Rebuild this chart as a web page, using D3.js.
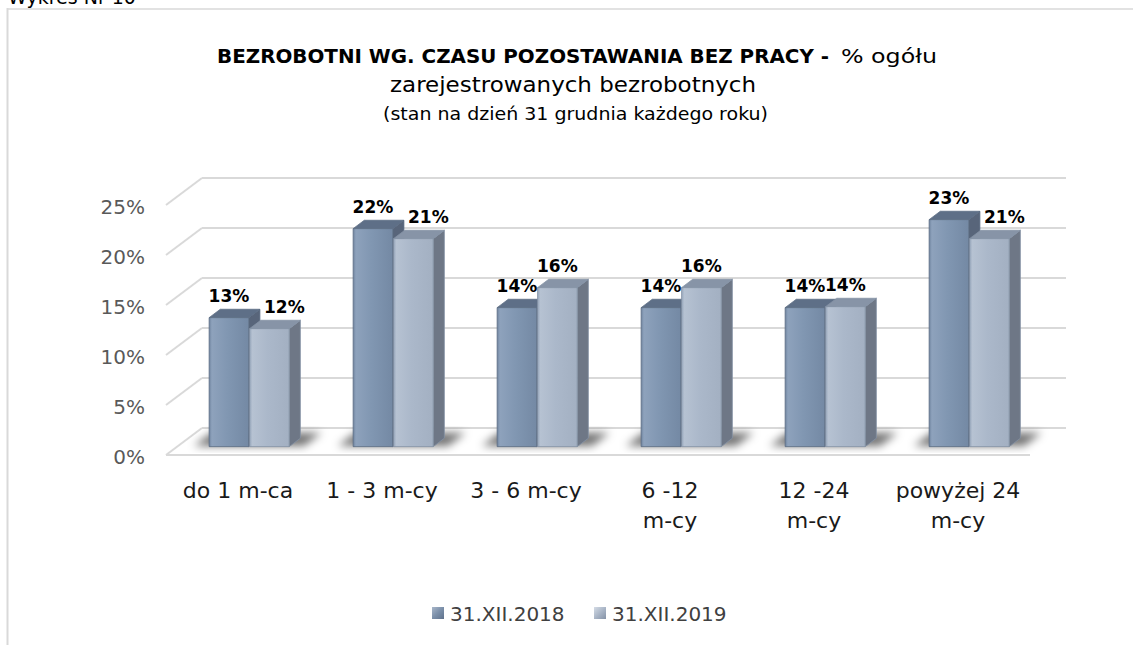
<!DOCTYPE html>
<html>
<head>
<meta charset="utf-8">
<script src="https://cdn.jsdelivr.net/npm/d3@7"></script>
<style>
  html, body { margin: 0; padding: 0; background: #fff; }
  svg { display: block; font-family: "DejaVu Sans", sans-serif; }
</style>
</head>
<body>
<svg id="chart" width="1135" height="645"></svg>
<script>
// ---- data ----
const categories = [["do 1 m-ca"], ["1 - 3 m-cy"], ["3 - 6 m-cy"], ["6 -12", "m-cy"], ["12 -24", "m-cy"], ["powyżej 24", "m-cy"]];
const seriesNames = ["31.XII.2018", "31.XII.2019"];
const values2018 = [12.9, 21.8, 13.9, 13.9, 13.9, 22.7];
const values2019 = [11.8, 20.8, 15.9, 15.9, 14.0, 20.8];
const labels2018 = ["13%", "22%", "14%", "14%", "14%", "23%"];
const labels2019 = ["12%", "21%", "16%", "16%", "14%", "21%"];
const yTicks = [0, 5, 10, 15, 20, 25];
const titleBold = "BEZROBOTNI WG. CZASU POZOSTAWANIA BEZ PRACY -";
const titleRest = "% ogółu";
const titleLine2 = "zarejestrowanych bezrobotnych";
const titleLine3 = "(stan na dzień 31 grudnia każdego roku)";
const caption = "Wykres Nr 10";

// ---- layout ----
const svg = d3.select("#chart");
const W = 1135, H = 645;
const DX = 36, DY = -27;        // full depth offset
const F0 = 0.31, F1 = 0.62;     // bar depth
const keys = categories.map(c => c.join(" "));
const x0 = d3.scaleBand().domain(keys).range([166, 1030]).paddingInner(0.444).paddingOuter(0.222);
const x1 = d3.scaleBand().domain([0, 1]).range([0, x0.bandwidth()]).paddingInner(0.02);
const y = d3.scaleLinear().domain([0, 25]).range([455, 205]);
const P = (xf, v, f) => [xf + DX * f, y(v) + DY * f];
const poly = pts => "M" + pts.map(p => p.join(",")).join("L") + "Z";

const defs = svg.append("defs");
function lin(id, stops, x2 = "100%", y2 = "0%") {
  const g = defs.append("linearGradient").attr("id", id).attr("x1", "0%").attr("y1", "0%").attr("x2", x2).attr("y2", y2);
  stops.forEach(s => g.append("stop").attr("offset", s[0]).attr("stop-color", s[1]));
}
lin("front0", [[0, "#6f849f"], [0.07, "#8ea2bc"], [0.45, "#8197b2"], [1, "#7489a4"]]);
lin("front1", [[0, "#97a6bb"], [0.07, "#b6c2d2"], [0.45, "#abb8ca"], [1, "#a3b0c2"]]);
lin("leg0", [[0, "#a9b7ca"], [0.5, "#7b8fa9"], [1, "#5f718b"]], "100%", "100%");
lin("leg1", [[0, "#d5dce6"], [0.5, "#aab6c7"], [1, "#8492a6"]], "100%", "100%");
defs.append("filter").attr("id", "blur").attr("x", "-50%").attr("y", "-50%").attr("width", "200%").attr("height", "200%")
  .append("feGaussianBlur").attr("stdDeviation", 4);

const colors = [
  { front: "url(#front0)", top: "#5e6f87", side: "#58657a", stroke: "#5d6d84" },
  { front: "url(#front1)", top: "#8794a7", side: "#6e7786", stroke: "#8492a5" }
];

// caption (partly cut off at top, as in the source)
svg.append("text").attr("x", 8).attr("y", 4).attr("font-size", 19).attr("fill", "#000").text(caption);

// outer frame
svg.append("line").attr("x1", 7).attr("x2", 1133).attr("y1", 9).attr("y2", 9).attr("stroke", "#d9d9d9").attr("stroke-width", 1.5);
svg.append("line").attr("x1", 7.5).attr("x2", 7.5).attr("y1", 8).attr("y2", H).attr("stroke", "#d9d9d9").attr("stroke-width", 2);

// title
svg.append("text").attr("x", 217).attr("y", 63).attr("font-size", 20).attr("font-weight", "bold")
  .attr("textLength", 612).attr("lengthAdjust", "spacingAndGlyphs").attr("fill", "#000").text(titleBold);
svg.append("text").attr("x", 841).attr("y", 63).attr("font-size", 20)
  .attr("textLength", 96).attr("lengthAdjust", "spacingAndGlyphs").attr("fill", "#000").text(titleRest);
svg.append("text").attr("x", 390).attr("y", 92).attr("font-size", 21)
  .attr("textLength", 366).attr("lengthAdjust", "spacingAndGlyphs").attr("fill", "#000").text(titleLine2);
svg.append("text").attr("x", 383).attr("y", 120).attr("font-size", 17)
  .attr("textLength", 385).attr("lengthAdjust", "spacingAndGlyphs").attr("fill", "#000").text(titleLine3);

// grid: back wall + left wall
const [xL, xR] = x0.range();
const grid = svg.append("g").attr("stroke", "#d9d9d9").attr("stroke-width", 2).attr("fill", "none");
yTicks.forEach(t => {
  grid.append("path").attr("d", "M" + P(xL, t, 1).join(",") + "L" + P(xR, t, 1).join(","));
  grid.append("path").attr("d", "M" + P(xL, t, 0).join(",") + "L" + P(xL, t, 1).join(","));
});
grid.append("path").attr("d", "M" + P(xL, 0, 0).join(",") + "L" + P(xR, 0, 0).join(","));

// y-axis labels
svg.append("g").selectAll("text").data(yTicks).join("text")
  .attr("x", 145).attr("y", d => y(d) + 9).attr("text-anchor", "end")
  .attr("font-size", 20).attr("fill", "#595959").text(d => d + "%");

// shadows
const shadowG = svg.append("g").attr("filter", "url(#blur)");
keys.forEach((k, i) => {
  const xl = x0(k) - 16, xr = x0(k) + x0.bandwidth() + 14;
  shadowG.append("path").attr("d", poly([P(xl, 0, F0 + 0.02), P(xr, 0, F0 + 0.02), P(xr, 0, F1 + 0.2), P(xl, 0, F1 + 0.2)]))
    .attr("fill", "#000").attr("opacity", 0.55);
});

// bars
const seriesVals = [values2018, values2019];
const seriesLabels = [labels2018, labels2019];
const barsG = svg.append("g");
keys.forEach((k, i) => {
  [0, 1].forEach(s => {
    const v = seriesVals[s][i];
    const xl = x0(k) + x1(s), xr = xl + x1.bandwidth();
    const c = colors[s];
    const g = barsG.append("g").attr("stroke", c.stroke).attr("stroke-width", 0.8).attr("stroke-linejoin", "round");
    g.append("path").attr("d", poly([P(xr, 0, F0), P(xr, 0, F1), P(xr, v, F1), P(xr, v, F0)])).attr("fill", c.side);
    g.append("path").attr("d", poly([P(xl, v, F0), P(xr, v, F0), P(xr, v, F1), P(xl, v, F1)])).attr("fill", c.top);
    g.append("path").attr("d", poly([P(xl, 0, F0), P(xr, 0, F0), P(xr, v, F0), P(xl, v, F0)])).attr("fill", c.front);
  });
});

// data labels
const labG = svg.append("g").attr("font-size", 17).attr("font-weight", "bold").attr("fill", "#000").attr("text-anchor", "middle");
keys.forEach((k, i) => {
  [0, 1].forEach(s => {
    const v = seriesVals[s][i];
    const xl = x0(k) + x1(s), xr = xl + x1.bandwidth();
    const shift = (s === 1 && values2019[i] < values2018[i] - 0.5) ? 15 : 0;
    const p = P((xl + xr) / 2, v, F0);
    labG.append("text").attr("x", p[0] + shift).attr("y", p[1] - 16).text(seriesLabels[s][i]);
  });
});

// x-axis labels
const xg = svg.append("g").attr("font-size", 22).attr("fill", "#1a1a1a").attr("text-anchor", "middle");
categories.forEach((c, i) => {
  const cx = x0(keys[i]) + x0.bandwidth() / 2;
  const t = xg.append("text").attr("x", cx).attr("y", 498);
  c.forEach((line, j) => t.append("tspan").attr("x", cx).attr("dy", j === 0 ? 0 : 30).text(line));
});

// legend
const legX = [432, 594];
const leg = svg.append("g");
seriesNames.forEach((n, i) => {
  leg.append("rect").attr("x", legX[i]).attr("y", 607).attr("width", 12).attr("height", 12)
    .attr("fill", "url(#leg" + i + ")");
  leg.append("text").attr("x", legX[i] + 18).attr("y", 621).attr("font-size", 20).attr("fill", "#404040").text(n);
});
</script>
</body>
</html>
